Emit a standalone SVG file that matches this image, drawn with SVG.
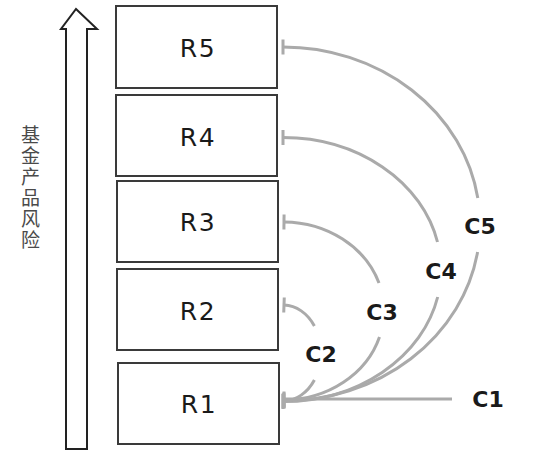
<svg xmlns="http://www.w3.org/2000/svg" width="542" height="465" viewBox="0 0 542 465">
<style>
.box{fill:#fff;stroke:#3a3a3a;stroke-width:2}
.rl{font-family:"DejaVu Sans","Liberation Sans",sans-serif;font-size:25px;letter-spacing:1.5px;fill:#1a1a1a;text-anchor:middle}
.cl{font-family:"DejaVu Sans","Liberation Sans",sans-serif;font-size:22px;font-weight:bold;fill:#1a1a1a;text-anchor:middle}
.con{fill:none;stroke:#aaaaaa;stroke-width:3}
.zh{font-family:"Noto Sans CJK SC",sans-serif;font-size:19px;fill:#4a4a4a;writing-mode:vertical-rl;letter-spacing:2px}
</style>
<defs>
<marker id="tee" markerUnits="userSpaceOnUse" markerWidth="6" markerHeight="16" refX="3" refY="8" orient="auto">
<path d="M3,0.5 V15.5" stroke="#aaaaaa" stroke-width="3"/>
</marker>
</defs>
<rect width="542" height="465" fill="#fff"/>
<g id="axis">
<polygon points="76,9 97,29 87,29 87,449 66,449 66,29 61,29" fill="#fff" stroke="#222" stroke-width="2" stroke-linejoin="miter"/>
<text class="zh" x="30.5" y="125">基金产品风险</text>
</g>
<g id="R5"><rect class="box" x="116" y="6" width="161" height="82"/><text class="rl" x="198" y="57">R5</text></g>
<g id="R4"><rect class="box" x="116" y="95" width="161" height="81"/><text class="rl" x="198" y="146">R4</text></g>
<g id="R3"><rect class="box" x="117" y="181" width="161" height="81"/><text class="rl" x="198" y="231">R3</text></g>
<g id="R2"><rect class="box" x="117" y="269" width="161" height="81"/><text class="rl" x="198" y="320">R2</text></g>
<g id="R1"><rect class="box" x="118" y="363" width="161" height="81"/><text class="rl" x="199" y="413">R1</text></g>
<g id="connectors">
<path class="con" marker-start="url(#tee)" d="M283,47 A197 177 0 0 1 477.8,198"/>
<path class="con" marker-end="url(#tee)" d="M477.6,252 A197 177 0 0 1 283,401"/>
<path class="con" marker-start="url(#tee)" d="M283,137.5 A158 132 0 0 1 437.5,242"/>
<path class="con" marker-end="url(#tee)" d="M437.7,297 A158 132 0 0 1 283,401.5"/>
<path class="con" marker-start="url(#tee)" d="M284,222 A101 89 0 0 1 379,283"/>
<path class="con" marker-end="url(#tee)" d="M379.5,337 A101 89 0 0 1 284,400"/>
<path class="con" marker-start="url(#tee)" d="M284,305 A38 48 0 0 1 314.4,326"/>
<path class="con" marker-end="url(#tee)" d="M314.4,380 A38 48 0 0 1 284,401"/>
<path class="con" marker-end="url(#tee)" d="M452,399 H284"/>
</g>
<g id="labels">
<text class="cl" x="480" y="234">C5</text>
<text class="cl" x="441" y="278.5">C4</text>
<text class="cl" x="382" y="319.5">C3</text>
<text class="cl" x="321" y="361.5">C2</text>
<text class="cl" x="488" y="406.5">C1</text>
</g>
</svg>
